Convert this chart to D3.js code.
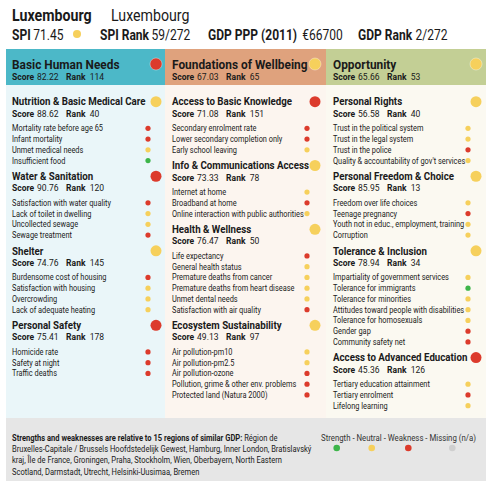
<!DOCTYPE html>
<html><head><meta charset="utf-8">
<script src="https://cdn.jsdelivr.net/npm/d3@7"></script>
<style>
body{margin:0;background:#fff;}
text{font-family:"Roboto","Liberation Sans",sans-serif;fill:#1a1a1a;}
</style></head><body>
<svg id="c" width="493" height="490"></svg>
<script>
// ---- data ----
const region = "Luxembourg";
const country = "Luxembourg";
const spi = 71.45, spiStatus = "N", spiRank = "59/272", gdp = "€66700", gdpRank = "2/272";

const dimensions = ["Basic Human Needs", "Foundations of Wellbeing", "Opportunity"];
const dimScores = [82.22, 67.03, 65.66];
const dimRanks = [114, 65, 53];
const dimStatus = ["W", "N", "N"];

const components = ["Nutrition & Basic Medical Care", "Water & Sanitation", "Shelter", "Personal Safety",
  "Access to Basic Knowledge", "Info & Communications Access", "Health & Wellness", "Ecosystem Sustainability",
  "Personal Rights", "Personal Freedom & Choice", "Tolerance & Inclusion", "Access to Advanced Education"];
const compDim = [0,0,0,0,1,1,1,1,2,2,2,2];
const compScores = [88.62, 90.76, 74.76, 75.41, 71.08, 73.33, 76.47, 49.13, 56.58, 85.95, 78.94, 45.36];
const compRanks = [40, 120, 145, 178, 151, 78, 50, 97, 40, 13, 34, 126];
const compStatus = ["N","W","N","W","W","N","N","N","N","N","N","W"];

const indicators = [
  "Mortality rate before age 65","Infant mortality","Unmet medical needs","Insufficient food",
  "Satisfaction with water quality","Lack of toilet in dwelling","Uncollected sewage","Sewage treatment",
  "Burdensome cost of housing","Satisfaction with housing","Overcrowding","Lack of adequate heating",
  "Homicide rate","Safety at night","Traffic deaths",
  "Secondary enrolment rate","Lower secondary completion only","Early school leaving",
  "Internet at home","Broadband at home","Online interaction with public authorities",
  "Life expectancy","General health status","Premature deaths from cancer","Premature deaths from heart disease","Unmet dental needs","Satisfaction with air quality",
  "Air pollution-pm10","Air pollution-pm2.5","Air pollution-ozone","Pollution, grime & other env. problems","Protected land (Natura 2000)",
  "Trust in the political system","Trust in the legal system","Trust in the police","Quality & accountability of gov't services",
  "Freedom over life choices","Teenage pregnancy","Youth not in educ., employment, training","Corruption",
  "Impartiality of government services","Tolerance for immigrants","Tolerance for minorities","Attitudes toward people with disabilities","Tolerance for homosexuals","Gender gap","Community safety net",
  "Tertiary education attainment","Tertiary enrolment","Lifelong learning"];
const indComp = [0,0,0,0, 1,1,1,1, 2,2,2,2, 3,3,3, 4,4,4, 5,5,5, 6,6,6,6,6,6, 7,7,7,7,7, 8,8,8,8, 9,9,9,9, 10,10,10,10,10,10,10, 11,11,11];
const indStatus = ["W","W","N","S", "W","N","N","W", "W","N","N","N", "W","W","W", "W","W","N", "N","W","N",
  "W","N","N","N","N","W", "N","N","W","W","W", "N","N","W","N", "N","W","N","N", "N","S","N","N","N","W","W", "N","W","N"];

const peerLead = "Strengths and weaknesses are relative to 15 regions of similar GDP:";
const peerLines = [" Région de",
  "Bruxelles-Capitale / Brussels Hoofdstedelijk Gewest, Hamburg, Inner London, Bratislavský",
  "kraj, Île de France, Groningen, Praha, Stockholm, Wien, Oberbayern, North Eastern",
  "Scotland, Darmstadt, Utrecht, Helsinki-Uusimaa, Bremen"];
const legendLabels = ["Strength","Neutral","Weakness","Missing (n/a)"];
const legendKeys = ["S","N","W","M"];

// ---- styles ----
const statusColor = d3.scaleOrdinal().domain(["S","N","W","M"]).range(["#3db54a","#f6d05c","#dc3b2c","#cfcfcf"]);
const headColor = ["#4cb8c8","#dfa27d","#c3cf95"];
const bodyColor = ["#eaf6f9","#fcf5ef","#fbf9f1"];

const svg = d3.select("#c");
const colX = d3.scaleOrdinal().domain([0,1,2]).range([6,165,326]);
const colW = [159,161,160];

function txt(parent, x, y, size, bold, k){
  return parent.append("text")
    .attr("transform", `translate(${x},${y}) scale(${k||0.86},1)`)
    .attr("dy","0.35em")
    .style("font-size", size+"px")
    .style("font-weight", bold ? "bold" : "normal");
}
function scoreLine(parent, x, y, score, rank){
  const t = txt(parent, x, y, 9, false, 0.95);
  t.append("tspan").style("font-weight","bold").text("Score");
  t.append("tspan").attr("dx",3).text(score);
  t.append("tspan").attr("dx",8).style("font-weight","bold").text("Rank");
  t.append("tspan").attr("dx",4.5).text(rank);
  return t;
}

// header
const h = svg.append("g");
txt(h,12,15,16.5,true).text(region);
txt(h,111,15,16.5,false).text(country);
function kv(x, label, val, gap){
  const t = txt(h,x,35,14,false);
  t.append("tspan").style("font-weight","bold").text(label);
  t.append("tspan").attr("dx",gap).text(val);
}
kv(12,"SPI",spi,3);
h.append("circle").attr("cx",77).attr("cy",34).attr("r",4).attr("fill",statusColor(spiStatus));
kv(100,"SPI Rank",spiRank,3);
kv(208,"GDP PPP (2011)",gdp,6);
kv(358,"GDP Rank",gdpRank,4);

// columns
const bodyTop = 85, bodyBottom = 418;
dimensions.forEach((d,i)=>{
  const x0 = colX(i);
  svg.append("rect").attr("x",x0).attr("y",bodyTop).attr("width",colW[i]).attr("height",bodyBottom-bodyTop).attr("fill",bodyColor[i]);
  svg.append("rect").attr("x",x0).attr("y",49).attr("width",colW[i]).attr("height",bodyTop-49).attr("fill",headColor[i]);
  const tx = x0 + (i===0?6:7);
  txt(svg,tx,64.2,12.5,true,0.95).text(d);
  scoreLine(svg,tx,77.2,dimScores[i].toFixed(2),dimRanks[i]);
  svg.append("circle").attr("cx",x0+150).attr("cy",64).attr("r",6).attr("fill",statusColor(dimStatus[i]))
    .attr("stroke","rgba(255,255,255,0.35)").attr("stroke-width",1);

  let y = 101.7;
  components.forEach((c,ci)=>{
    if(compDim[ci]!==i) return;
    txt(svg,tx,y,10.8,true,0.9).text(c);
    svg.append("circle").attr("cx",x0+150).attr("cy",y).attr("r",5.5).attr("fill",statusColor(compStatus[ci]));
    scoreLine(svg,tx,y+11.9,compScores[ci].toFixed(2),compRanks[ci]);
    y += 26.6;
    indicators.forEach((ind,ii)=>{
      if(indComp[ii]!==ci) return;
      txt(svg,tx,y,8.6,false).text(ind);
      svg.append("circle").attr("cx",x0+142).attr("cy",y).attr("r",2.6).attr("fill",statusColor(indStatus[ii]));
      y += 10.75;
    });
    y += 15.7 - 10.75;
  });
});

// footer
svg.append("rect").attr("x",6).attr("y",bodyBottom).attr("width",480).attr("height",63).attr("fill","#e6e6e6");
const f = svg.append("g");
peerLines.forEach((ln,li)=>{
  const t = txt(f,12,437.7+li*11.3,8.8,false);
  if(li===0){ t.append("tspan").style("font-weight","bold").text(peerLead); }
  t.append("tspan").text(ln);
});
txt(f,321,437.7,9.1,false).style("fill","#333").text(legendLabels.join(" - "));
const legXs = [336.7,371.7,408.3,452.3];
legendKeys.forEach((k,ki)=>{
  f.append("circle").attr("cx",legXs[ki]).attr("cy",448).attr("r",3.3).attr("fill",statusColor(k));
});
</script>
</body></html>
